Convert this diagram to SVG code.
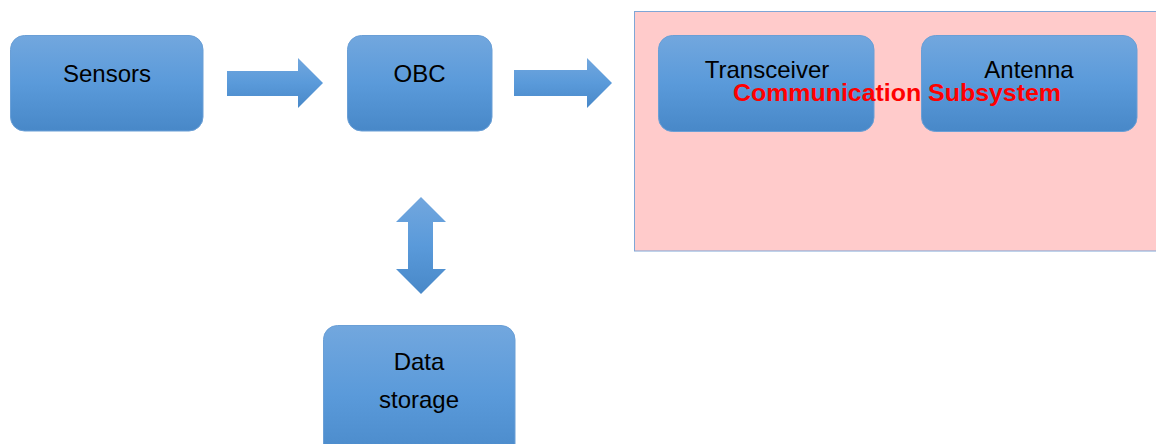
<svg xmlns="http://www.w3.org/2000/svg" width="1156" height="444" viewBox="0 0 1156 444">
<defs>
<linearGradient id="g" x1="0" y1="0" x2="0" y2="1">
<stop offset="0" stop-color="#72A7DE"/>
<stop offset="0.5" stop-color="#5A9ADA"/>
<stop offset="1" stop-color="#4888C8"/>
</linearGradient>
<style>
.box{fill:url(#g);stroke:#6A9FD6;stroke-width:1}
.arr{fill:url(#g);stroke:none}
.t{font-family:"Liberation Sans",Arial,sans-serif;font-size:24px;fill:#000;text-anchor:middle}
.lbl{font-family:"Liberation Sans",Arial,sans-serif;font-size:24px;font-weight:bold;fill:#FF0000;text-anchor:middle}
</style>
</defs>
<rect width="1156" height="444" fill="#fff"/>
<g id="comm">
<rect x="634.5" y="11.5" width="530" height="239.5" fill="#FFCBCB" stroke="#7FA6D6" stroke-width="1"/>
</g>
<g id="sensors">
<rect class="box" x="10.5" y="35.5" width="192.5" height="95.5" rx="14"/>
<text class="t" x="107" y="82">Sensors</text>
</g>
<g id="obc">
<rect class="box" x="347.5" y="35.5" width="144.5" height="95.5" rx="14"/>
<text class="t" x="419.5" y="82">OBC</text>
</g>
<g id="transceiver">
<rect class="box" x="658.5" y="35.5" width="215.5" height="96" rx="14"/>
<text class="t" x="767" y="78">Transceiver</text>
</g>
<g id="antenna">
<rect class="box" x="921.5" y="35.5" width="215.5" height="96" rx="14"/>
<text class="t" x="1029" y="78">Antenna</text>
</g>
<g id="datastorage">
<rect class="box" x="323.5" y="325.5" width="191.5" height="140" rx="14"/>
<text class="t" x="419" y="370">Data</text>
<text class="t" x="419" y="408">storage</text>
</g>
<g id="connectors">
<polygon class="arr" points="227,71 298,71 298,58 323,83 298,108 298,96 227,96"/>
<polygon class="arr" points="514,70 587,70 587,58 612,83 587,108 587,96 514,96"/>
<polygon class="arr" points="421,197 446,222 433,222 433,269 446,269 421,294 396,269 408,269 408,222 396,222"/>
</g>
<text class="lbl" x="897" y="101" textLength="328" lengthAdjust="spacingAndGlyphs">Communication Subsystem</text>
</svg>
